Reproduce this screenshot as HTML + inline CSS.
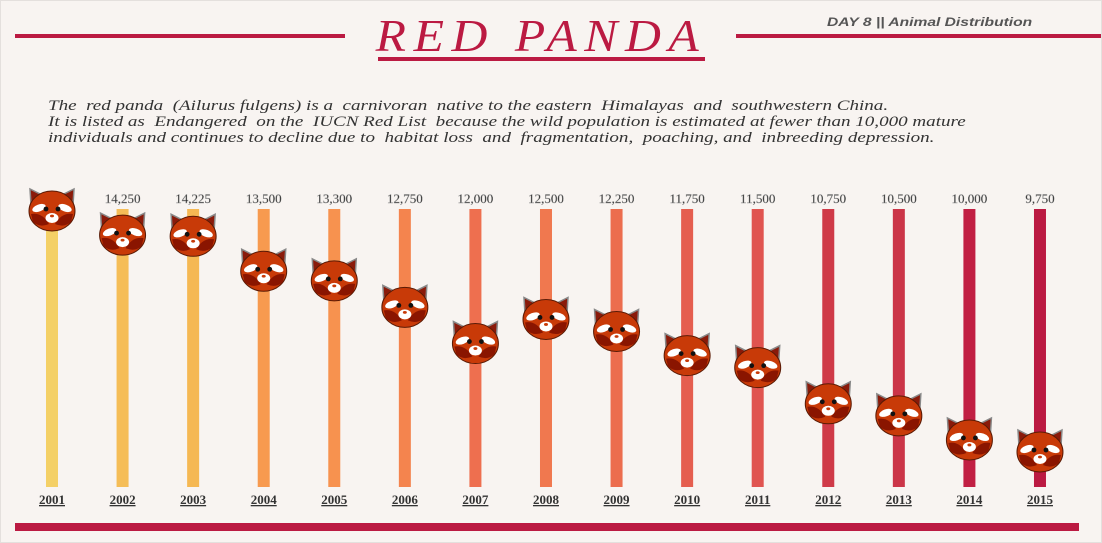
<!DOCTYPE html>
<html><head><meta charset="utf-8">
<style>
html,body{margin:0;padding:0;background:#fff;}
#page{position:relative;width:1100px;height:541px;background:#f8f4f1;border:1px solid #e4e0dd;overflow:hidden;font-family:"Liberation Serif",serif;}
.line{position:absolute;background:#bb1a42;}
#title{position:absolute;left:345px;top:8px;width:390px;text-align:center;font-family:"Liberation Serif",serif;font-style:italic;font-size:46px;letter-spacing:7px;color:#bb1a42;transform:scaleX(1.08);}
#title-ul{position:absolute;left:377px;top:56px;width:327px;height:4px;background:#bb1a42;}
#sub{position:absolute;left:826px;top:14px;font-family:"Liberation Sans",sans-serif;font-style:italic;font-weight:bold;font-size:12px;color:#555;transform:scaleX(1.3);transform-origin:0 0;}
#desc{position:absolute;left:47px;top:97px;font-family:"Liberation Serif",serif;font-style:italic;font-size:15px;line-height:16px;color:#333;white-space:pre;transform:scaleX(1.27);transform-origin:0 0;}
svg{position:absolute;left:0;top:0;}
</style></head><body>
<div id="page">
<div class="line" style="left:14px;top:33px;width:330px;height:4px"></div>
<div class="line" style="left:735px;top:33px;width:366px;height:4px"></div>
<div id="title">RED PANDA</div>
<div id="title-ul"></div>
<div id="sub">DAY 8 || Animal Distribution</div>
<div id="desc">The  red panda  (Ailurus fulgens) is a  carnivoran  native to the eastern  Himalayas  and  southwestern China.
It is listed as  Endangered  on the  IUCN Red List  because the wild population is estimated at fewer than 10,000 mature
individuals and continues to decline due to  habitat loss  and  fragmentation,  poaching, and  inbreeding depression.</div>
<svg id="chart" width="1100" height="541"></svg>
<div class="line" style="left:14px;top:522px;width:1064px;height:8px"></div>
</div>
<script>
const years=["2001","2002","2003","2004","2005","2006","2007","2008","2009","2010","2011","2012","2013","2014","2015"];
const values=[14750,14250,14225,13500,13300,12750,12000,12500,12250,11750,11500,10750,10500,10000,9750];
const labels=["14,750","14,250","14,225","13,500","13,300","12,750","12,000","12,500","12,250","11,750","11,500","10,750","10,500","10,000","9,750"];
const colors=["#f4d066","#f5bd57","#f5b853","#f79a4f","#f7924f","#f4844e","#ee6f4f","#f0784f","#ec6d4e","#e55e4f","#e05450","#cf3a48","#cb3548","#c11f43","#bb1a42"];
const svg=document.getElementById('chart');
const NS='http://www.w3.org/2000/svg';
const x=i=>51+i*70.57;
const y=v=>209+(14750-v)*0.0482;
function mk(t,a){const e=document.createElementNS(NS,t);for(const k in a)e.setAttribute(k,a[k]);svg.appendChild(e);return e;}
years.forEach((yr,i)=>{
  const b=mk('rect',{x:x(i)-6,y:208,width:12,height:278,fill:colors[i]});
  
  
  const t=mk('text',{x:x(i),y:202,'text-anchor':'middle','font-size':13,fill:'#222',stroke:'#999','stroke-width':0.4,'font-family':'Liberation Serif, serif'});
  t.textContent=labels[i];
  
  
  const a=mk('text',{x:x(i),y:503,'text-anchor':'middle','font-size':13,'font-weight':'bold',fill:'#333','text-decoration':'underline','font-family':'Liberation Serif, serif'});
  a.textContent=yr;
  
  
  const g=document.createElementNS(NS,'g');
  
  
  g.setAttribute('transform','translate('+x(i)+','+y(values[i])+')');
  g.innerHTML=
   '<path d="M-22,-21 L-21,-5 L-8,-14 Z" fill="#8a1a0a" stroke="#888" stroke-width="1.5"/>'+
   '<path d="M22,-21 L21,-5 L8,-14 Z" fill="#8a1a0a" stroke="#888" stroke-width="1.5"/>'+
   '<ellipse cx="0" cy="1" rx="23" ry="20" fill="#c83a08" stroke="#5a1a05" stroke-width="1"/>'+
   '<path d="M-21,4 Q-10,2 -3,14 Q-12,18 -19,12 Z" fill="#8a1500"/>'+
   '<path d="M21,4 Q10,2 3,14 Q12,18 19,12 Z" fill="#8a1500"/>'+
   '<ellipse cx="-13" cy="-2" rx="7" ry="3.5" fill="#fff" transform="rotate(-20 -13 -2)"/>'+
   '<ellipse cx="13" cy="-2" rx="7" ry="3.5" fill="#fff" transform="rotate(20 13 -2)"/>'+
   '<ellipse cx="0" cy="8" rx="6.5" ry="5" fill="#fff"/>'+
   '<circle cx="-6" cy="-1" r="2.4" fill="#111"/><circle cx="6" cy="-1" r="2.4" fill="#111"/>'+
   '<ellipse cx="0" cy="6" rx="2" ry="1.4" fill="#c83a08"/>';
  svg.appendChild(g);
});
</script>
</body></html>
